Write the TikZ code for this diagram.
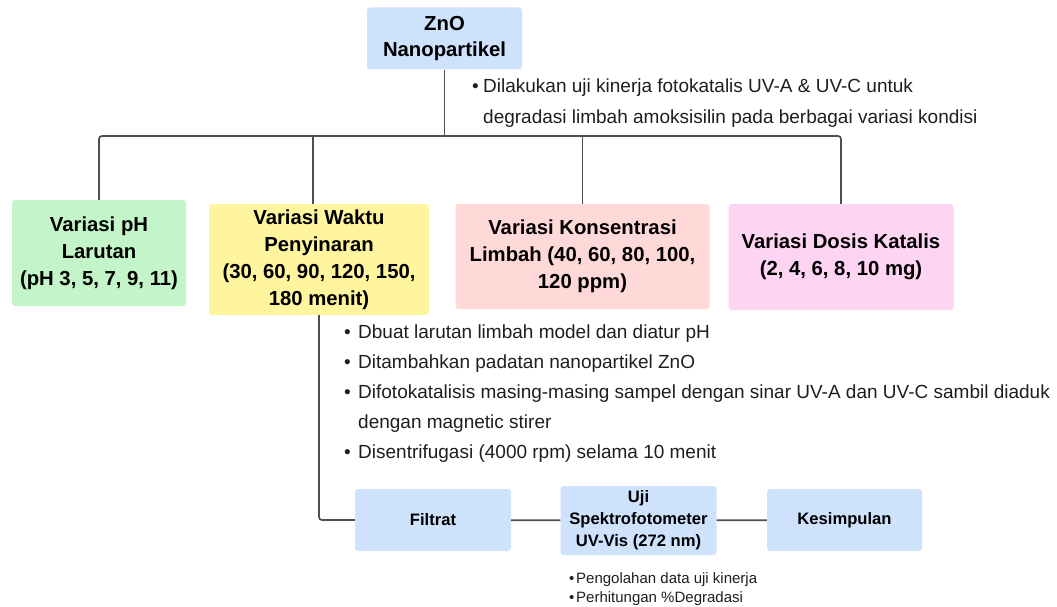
\documentclass[tikz,border=0pt]{standalone}
\usepackage{fontspec}
\setmainfont{Liberation Sans}
\definecolor{cblue}{HTML}{CFE2FC}
\definecolor{cgreen}{HTML}{C3F5C9}
\definecolor{cyellow}{HTML}{FFF59E}
\definecolor{cpink}{HTML}{FFD8D8}
\definecolor{cmag}{HTML}{FED4F3}
\definecolor{linec}{HTML}{4A4F58}
\definecolor{txt}{HTML}{1E1E1E}
\newcommand{\bulA}{\makebox[11pt][l]{•}}
\newcommand{\bulB}{\makebox[14pt][l]{•}}
\newcommand{\bulC}{\makebox[7pt][l]{•}}
\begin{document}
\begin{tikzpicture}[x=1pt,y=-1pt,
  box/.style={rectangle, rounded corners=3pt, inner sep=0pt, align=center,
    font=\fontsize{20.3}{27}\selectfont\bfseries, text=black},
  sbox/.style={box, fill=cblue, font=\fontsize{16.6}{22}\selectfont\bfseries,
    minimum width=156pt, minimum height=62pt},
  conn/.style={draw=linec, line width=1.7pt, rounded corners=3pt},
  btext/.style={anchor=base west, inner sep=0pt, font=\fontsize{19}{30}\selectfont, text=txt},
  stext/.style={anchor=base west, inner sep=0pt, font=\fontsize{15}{19}\selectfont, text=txt}]
\path[use as bounding box] (0,0) rectangle (1057,607);

% boxes
\node[box, fill=cblue, minimum width=155pt, minimum height=62pt,
  font=\fontsize{20.3}{26}\selectfont\bfseries] (zno) at (444.5,38.5) {ZnO\\Nanopartikel};
\node[box, fill=cgreen, minimum width=174pt, minimum height=106pt] (green) at (99,253)
  {Variasi pH\\Larutan\\(pH 3, 5, 7, 9, 11)};
\node[box, fill=cyellow, minimum width=220pt, minimum height=111pt] (yellow) at (319,259.5)
  {Variasi Waktu\\Penyinaran\\(30, 60, 90, 120, 150,\\180 menit)};
\node[box, fill=cpink, minimum width=254pt, minimum height=105pt] (pink) at (582.5,256.5)
  {Variasi Konsentrasi\\Limbah (40, 60, 80, 100,\\120 ppm)};
\node[box, fill=cmag, minimum width=225pt, minimum height=106pt] (mag) at (841,257)
  {Variasi Dosis Katalis\\(2, 4, 6, 8, 10 mg)};
\node[sbox] (filtrat) at (433,520) {Filtrat};
\node[sbox, minimum height=69pt] (uji) at (638.5,520.5) {Uji\\Spektrofotometer\\UV-Vis (272 nm)};
\node[sbox, minimum width=155pt] (kes) at (844.5,520) {Kesimpulan};

% connectors
\coordinate (bar) at (444,136);
\draw[conn] (green.north) |- (bar) -| (mag.north);
\draw[conn] (zno.south) -- (zno.south |- bar);
\draw[conn] ([xshift=-6pt]yellow.north) -- ([xshift=-6pt]yellow.north |- bar);
\draw[conn] (pink.north) -- (pink.north |- bar);
\draw[conn] (yellow.south) |- (filtrat.west);
\draw[conn] (filtrat) -- (uji);
\draw[conn] (uji) -- (kes);

% notes
\node[btext] (n1) at (472,93) {\bulA Dilakukan uji kinerja fotokatalis UV-A \& UV-C untuk};
\node[btext] (n2) at (483,124) {degradasi limbah amoksisilin pada berbagai variasi kondisi};

\node[btext] (p1) at (344,338) {\bulB Dbuat larutan limbah model dan diatur pH};
\node[btext] (p2) at (344,368) {\bulB Ditambahkan padatan nanopartikel ZnO};
\node[btext] (p3) at (344,398) {\bulB Difotokatalisis masing-masing sampel dengan sinar UV-A dan UV-C sambil diaduk};
\node[btext] (p4) at (358,428) {dengan magnetic stirer};
\node[btext] (p5) at (344,458) {\bulB Disentrifugasi (4000 rpm) selama 10 menit};

\node[stext] (s1) at (569,583) {\bulC Pengolahan data uji kinerja};
\node[stext] (s2) at (569,602) {\bulC Perhitungan \%Degradasi};
\end{tikzpicture}
\end{document}
